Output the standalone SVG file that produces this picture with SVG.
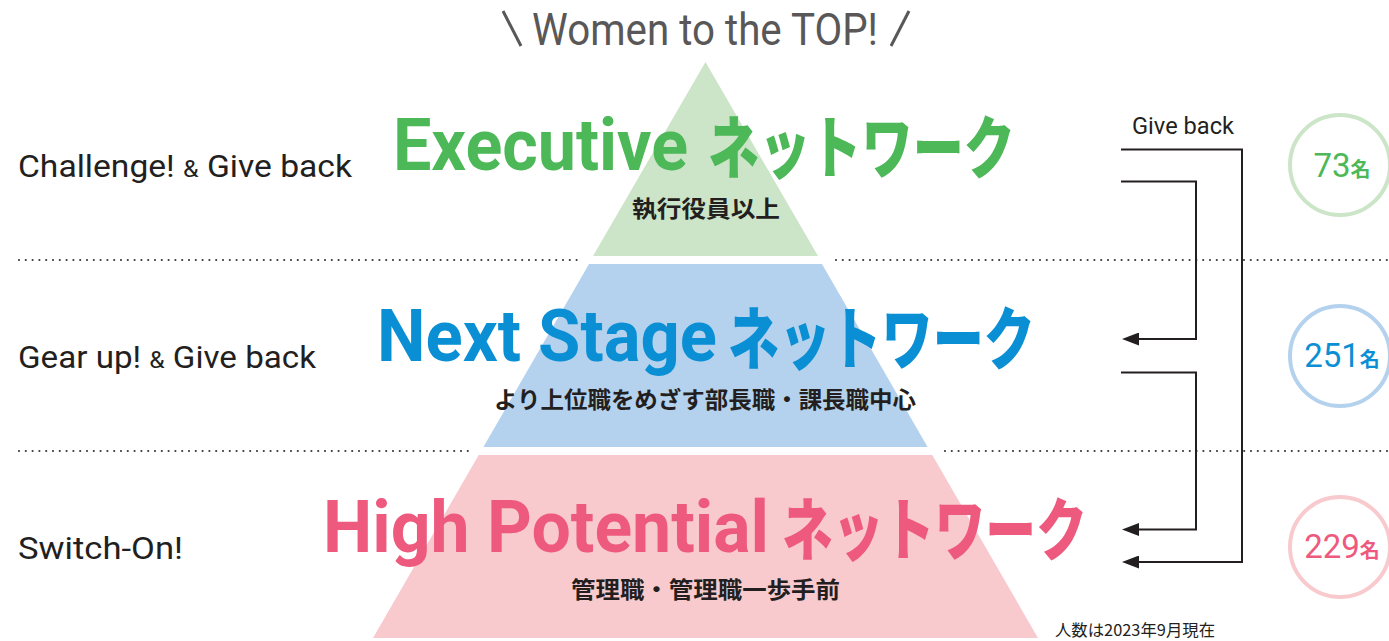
<svg xmlns="http://www.w3.org/2000/svg" width="1389" height="641" viewBox="0 0 1389 641">
<defs>
<style>
.lbl{font-family:"Roboto","Noto Sans","Liberation Sans",sans-serif;font-size:31px;fill:#231f20}
.amp{font-size:23px}
.ttl{font-family:"Roboto","Noto Sans","Liberation Sans",sans-serif;font-weight:700;font-size:72px}
.kana{font-family:"Noto Sans CJK JP","Noto Sans",sans-serif;font-weight:900;font-size:68px}
.sub{font-family:"Noto Sans CJK JP","Noto Sans",sans-serif;font-weight:700;font-size:23px;fill:#231f20}
.num{font-family:"Roboto","Noto Sans","Liberation Sans",sans-serif;font-size:33px;font-weight:400;text-anchor:middle}
.mei{font-family:"Noto Sans CJK JP",sans-serif;font-size:20px;font-weight:700}
.dot{stroke:#3a3a3a;stroke-width:2.2;stroke-linecap:round;stroke-dasharray:0 6.8;fill:none}
.conn{stroke:#231f20;stroke-width:2;fill:none}
.g{fill:#4cb857}.b{fill:#0a8fd5}.p{fill:#ee5a7e}
</style>
<marker id="arr" viewBox="0 0 17 13" refX="7" refY="6.5" markerWidth="17" markerHeight="13" markerUnits="userSpaceOnUse" orient="auto">
<path d="M0,0 L17,6.5 L0,13 Z" fill="#231f20"/>
</marker>
</defs>
<rect width="1389" height="641" fill="#ffffff"/>

<g id="title">
<line x1="503" y1="11" x2="521" y2="46" stroke="#595757" stroke-width="3"/>
<text x="532" y="45" textLength="346" lengthAdjust="spacingAndGlyphs" font-family="Roboto,'Noto Sans',sans-serif" font-size="44" fill="#595757">Women to the TOP!</text>
<line x1="909" y1="11" x2="891" y2="46" stroke="#595757" stroke-width="3"/>
</g>

<g id="dividers">
<line class="dot" x1="19" y1="260" x2="578" y2="260"/>
<line class="dot" x1="836" y1="260" x2="1389" y2="260"/>
<line class="dot" x1="19" y1="451" x2="470" y2="451"/>
<line class="dot" x1="945" y1="451" x2="1389" y2="451"/>
</g>

<g id="tier-executive">
<polygon points="705.5,62 818,256 593,256" fill="#cce5c8"/>
<text class="ttl g" x="393" y="170" textLength="295" lengthAdjust="spacingAndGlyphs">Executive</text>
<text class="kana g" x="708" y="173" textLength="307" lengthAdjust="spacingAndGlyphs">ネットワーク</text>
<text class="sub" x="706" y="217" text-anchor="middle" textLength="148" lengthAdjust="spacingAndGlyphs">執行役員以上</text>
</g>

<g id="tier-next-stage">
<polygon points="589,264 822,264 927.6,447 483.4,447" fill="#b4d2ee"/>
<text class="ttl b" x="377" y="361" textLength="340" lengthAdjust="spacingAndGlyphs">Next Stage</text>
<text class="kana b" x="728" y="364" textLength="307" lengthAdjust="spacingAndGlyphs">ネットワーク</text>
<text class="sub" x="494" y="408" textLength="422" lengthAdjust="spacingAndGlyphs">より上位職をめざす部長職・課長職中心</text>
</g>

<g id="tier-high-potential">
<polygon points="478.7,455 932.3,455 1038,638 373,638" fill="#f8cace"/>
<text class="ttl p" x="323" y="552" textLength="446" lengthAdjust="spacingAndGlyphs">High Potential</text>
<text class="kana p" x="782" y="555" textLength="305" lengthAdjust="spacingAndGlyphs">ネットワーク</text>
<text class="sub" x="571" y="598" textLength="269" lengthAdjust="spacingAndGlyphs">管理職・管理職一歩手前</text>
</g>

<g id="label-challenge">
<text class="lbl" x="18" y="177" textLength="334" lengthAdjust="spacingAndGlyphs">Challenge! <tspan class="amp">&amp;</tspan> Give back</text>
</g>
<g id="label-gearup">
<text class="lbl" x="18" y="368" textLength="298" lengthAdjust="spacingAndGlyphs">Gear up! <tspan class="amp">&amp;</tspan> Give back</text>
</g>
<g id="label-switch">
<text class="lbl" x="18" y="559" textLength="165" lengthAdjust="spacingAndGlyphs">Switch-On!</text>
</g>

<g id="connectors">
<path class="conn" d="M1121,149.5 H1242 V562 H1132" marker-end="url(#arr)"/>
<path class="conn" d="M1121,181.5 H1196 V339 H1132" marker-end="url(#arr)"/>
<path class="conn" d="M1121,372.5 H1196 V529.5 H1132" marker-end="url(#arr)"/>
</g>
<g id="label-giveback">
<text x="1132" y="134" textLength="102" lengthAdjust="spacingAndGlyphs" font-family="Roboto,'Noto Sans',sans-serif" font-size="24" fill="#231f20">Give back</text>
</g>

<g id="count-executive">
<circle cx="1340" cy="165" r="50" fill="none" stroke="#cce5c8" stroke-width="4"/>
<text class="num g" x="1342" y="177">73<tspan class="mei">名</tspan></text>
</g>
<g id="count-next-stage">
<circle cx="1340" cy="356" r="50" fill="none" stroke="#b4d2ee" stroke-width="4"/>
<text class="num b" x="1342" y="367">251<tspan class="mei">名</tspan></text>
</g>
<g id="count-high-potential">
<circle cx="1340" cy="547" r="50" fill="none" stroke="#f8cace" stroke-width="4"/>
<text class="num p" x="1342" y="558">229<tspan class="mei">名</tspan></text>
</g>

<g id="footnote">
<text x="1055" y="636" textLength="160" lengthAdjust="spacingAndGlyphs" font-family="'Noto Sans CJK JP',sans-serif" font-size="16" fill="#231f20">人数は2023年9月現在</text>
</g>
</svg>
